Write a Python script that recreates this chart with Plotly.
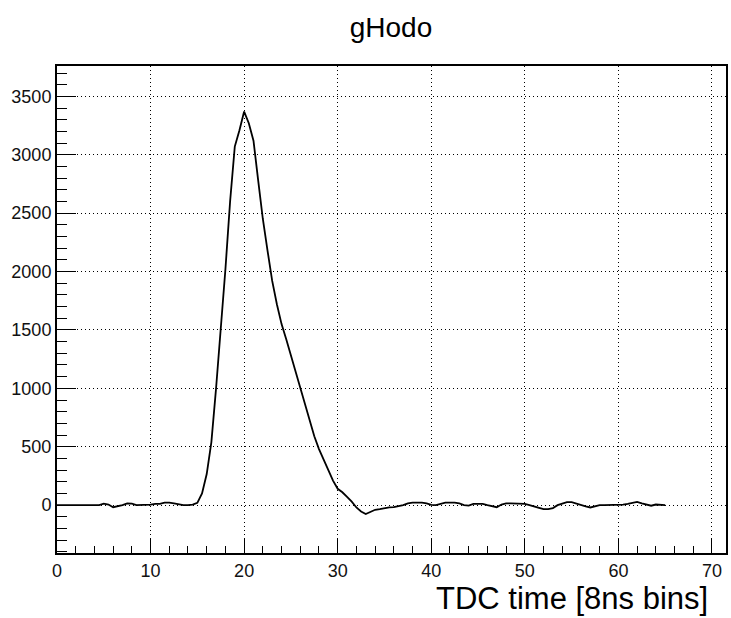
import plotly.graph_objects as go

# TDC time bins (x) and counts (y)
tdc_time = [0, 1, 2, 3, 4, 4.5, 5, 5.5, 6, 6.5, 7, 7.5, 8, 8.5, 9, 9.5, 10, 10.5, 11, 11.5,
            12, 12.5, 13, 13.5, 14, 14.5, 15, 15.5, 16, 16.5, 17, 17.5, 18, 18.5, 19, 19.5,
            20, 20.5, 21, 21.5, 22, 22.5, 23, 23.5, 24, 24.5, 25, 25.5, 26, 26.5, 27, 27.5,
            28, 28.5, 29, 29.5, 30, 30.5, 31, 31.5, 32, 32.5, 33, 33.5, 34, 34.5, 35, 35.5,
            36, 36.5, 37, 37.5, 38, 38.5, 39, 39.5, 40, 40.5, 41, 41.5, 42, 42.5, 43, 43.5,
            44, 44.5, 45, 45.5, 46, 46.5, 47, 47.5, 48, 48.5, 49, 49.5, 50, 50.5, 51, 51.5,
            52, 52.5, 53, 53.5, 54, 54.5, 55, 55.5, 56, 56.5, 57, 57.5, 58, 58.5, 59, 59.5,
            60, 60.5, 61, 61.5, 62, 62.5, 63, 63.5, 64, 64.5, 65]
counts = [0, 0, 0, 0, 0, 0, 12, 5, -18, -10, 0, 15, 12, 0, 0, 5, 5, 10, 10, 22,
          22, 15, 5, 0, 0, 5, 20, 100, 266, 540, 1000, 1500, 2020, 2600, 3070, 3210,
          3370, 3270, 3120, 2780, 2450, 2180, 1920, 1720, 1550, 1420, 1280, 1140, 1020, 880, 730, 590,
          480, 390, 290, 210, 140, 110, 70, 30, -20, -55, -77, -55, -40, -35, -25, -20,
          -18, -12, 0, 15, 22, 22, 22, 15, 2, 0, 10, 22, 22, 22, 15, 0,
          -5, 10, 10, 10, 0, -10, -18, 5, 15, 15, 15, 15, 10, 0, -10, -25,
          -35, -35, -25, 0, 15, 25, 25, 12, 0, -10, -20, -8, 0, 0, 0, 0,
          0, 5, 10, 20, 28, 15, 5, -5, 5, 5, 0]

title_text = "gHodo"
x_title = "TDC time [8ns bins]"

fig = go.Figure()
fig.add_trace(go.Scatter(x=tdc_time, y=counts, mode="lines",
                         line=dict(color="black", width=1.8), showlegend=False))

font = "Liberation Sans, Arial, Helvetica, sans-serif"
axis_common = dict(
    showline=True, linecolor="black", linewidth=2, mirror=True,
    ticks="inside", tickcolor="black", tickwidth=1.3,
    showgrid=True, gridcolor="black", gridwidth=1, griddash="1px,3px",
    zeroline=False,
    tickfont=dict(family=font, size=18, color="#111"),
)

fig.update_xaxes(range=[0, 71.5], dtick=10, tick0=0, ticklen=15,
                 minor=dict(ticks="inside", ticklen=7, dtick=2, tickcolor="black",
                            tickwidth=1.3, showgrid=False),
                 **axis_common)
fig.update_yaxes(range=[-410, 3760], dtick=500, tick0=0, ticklen=19,
                 minor=dict(ticks="inside", ticklen=10, dtick=100, tickcolor="black",
                            tickwidth=1.3, showgrid=False),
                 **axis_common)

fig.update_layout(
    width=731, height=618,
    margin=dict(l=57, r=3, t=66, b=65),
    paper_bgcolor="white", plot_bgcolor="white",
    title=dict(text=title_text, x=391/731, xanchor="center",
               y=1 - 27/618, yanchor="middle", yref="container",
               font=dict(family=font, size=28, color="black")),
    annotations=[dict(text=x_title, xref="paper", yref="paper",
                      x=(712 - 57) / 671, xanchor="right",
                      y=-(598 - 553) / 487, yanchor="middle",
                      showarrow=False,
                      font=dict(family=font, size=31, color="black"))],
)

fig.write_html("out.html")
